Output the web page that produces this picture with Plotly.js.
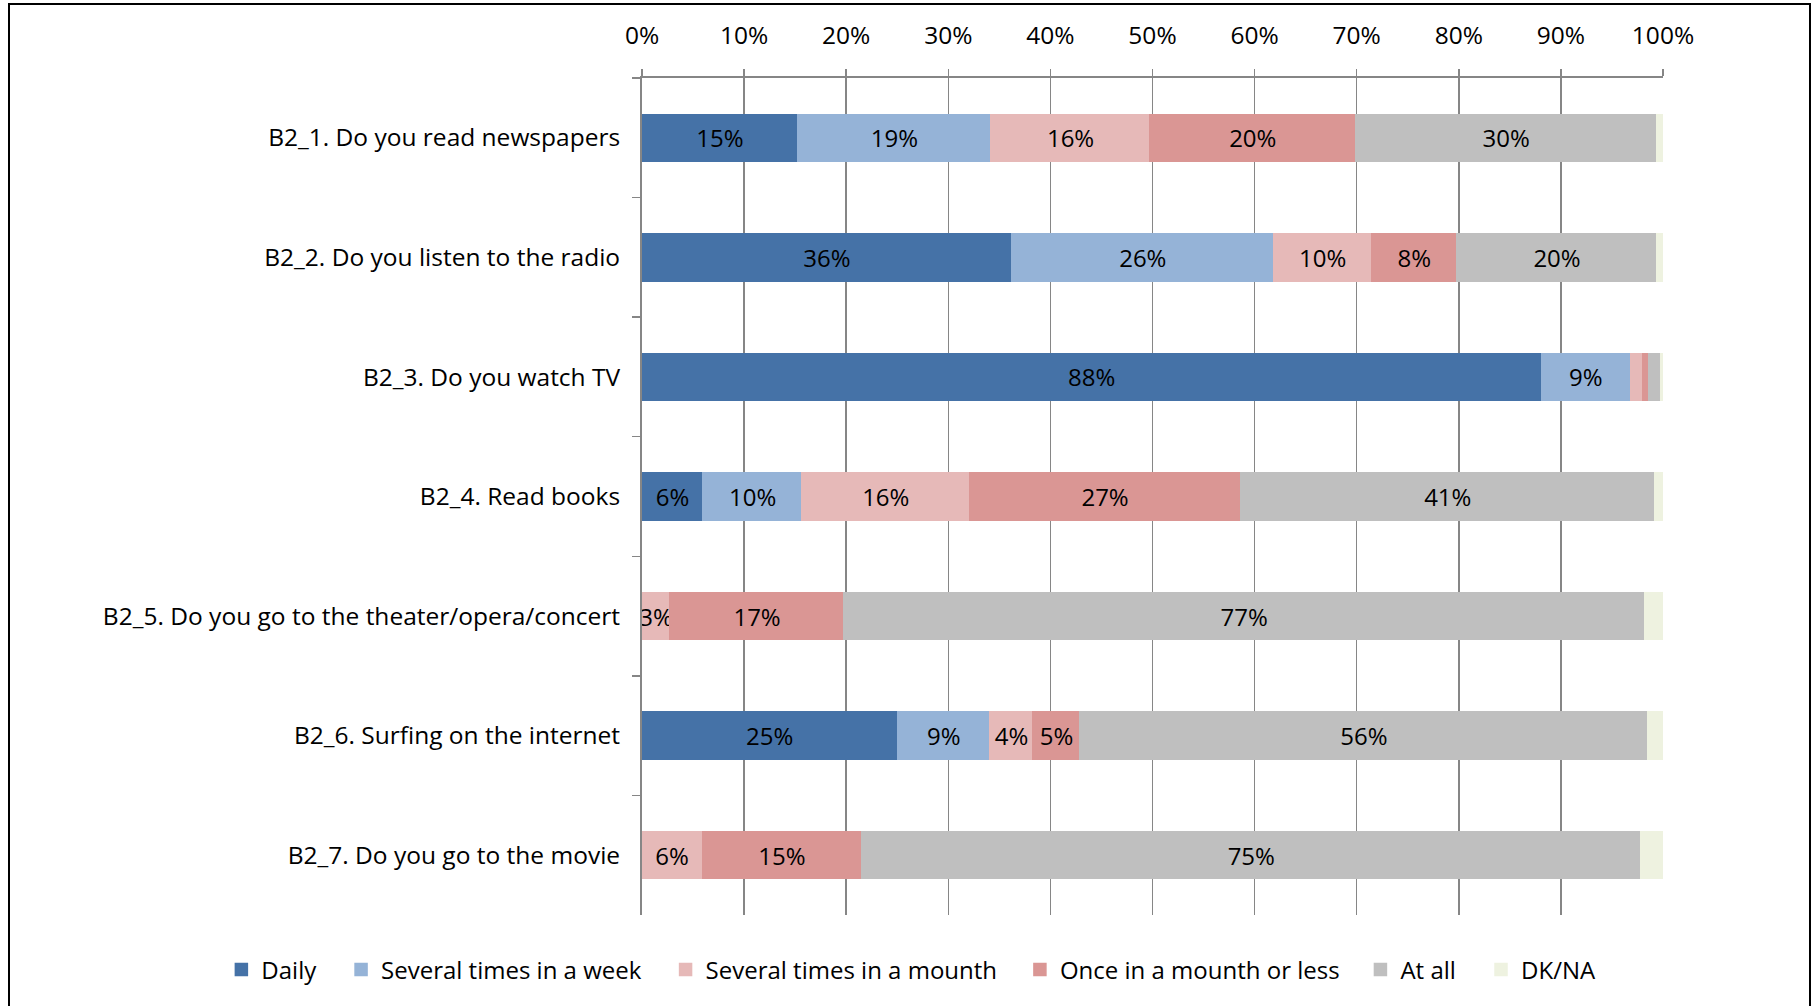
<!DOCTYPE html>
<html>
<head>
<meta charset="utf-8">
<script src="https://cdn.plot.ly/plotly-3.0.1.min.js"></script>
<style>
  html, body { margin: 0; padding: 0; background: #fff; overflow: hidden; }
  #chart { width: 1819px; height: 1006px; position: absolute; left: 0; top: 0; }
  #frame { position: absolute; left: 8px; top: 3px; width: 1803px; height: 1100px; border: 2px solid #000; pointer-events: none; box-sizing: border-box; }
</style>
</head>
<body>
<div id="chart"></div>
<div id="frame"></div>
<script>
const categories = [
  "B2_1. Do you read newspapers",
  "B2_2. Do you listen to the radio",
  "B2_3. Do you watch TV",
  "B2_4. Read books",
  "B2_5. Do you go to the theater/opera/concert",
  "B2_6. Surfing on the internet",
  "B2_7. Do you go to the movie"
];
const seriesNames = ["Daily", "Several times in a week", "Several times in a mounth", "Once in a mounth or less", "At all", "DK/NA"];
const daily        = [15.3, 36.3, 88.0, 6.0, 0, 25.0, 0];
const severalWeek  = [19.0, 25.7, 8.7, 9.7, 0, 9.1, 0];
const severalMonth = [15.6, 9.6, 1.2, 16.4, 2.7, 4.2, 5.8];
const onceMonth    = [20.2, 8.4, 0.6, 26.6, 16.8, 4.6, 15.3];
const atAll        = [29.6, 19.6, 1.2, 40.6, 77.2, 55.6, 75.0];
const dkna         = [0.6, 0.6, 0.2, 0.8, 1.8, 1.5, 2.1];
const xTicks = [0, 10, 20, 30, 40, 50, 60, 70, 80, 90, 100];

const colors = ["#4572A7", "#95B3D7", "#E6B9B8", "#DA9694", "#BFBFBF", "#EEF2E0"];
const seriesValues = [daily, severalWeek, severalMonth, onceMonth, atAll, dkna];
const showLabels = [true, true, true, true, true, false];
// legend placement (fraction of page width, left edge of each legend entry)
const legendX = [0.1217, 0.1875, 0.3659, 0.5607, 0.7479, 0.8142];
const legendIds = ['legend', 'legend2', 'legend3', 'legend4', 'legend5', 'legend6'];

const FONT = 'Open Sans';

const traces = seriesValues.map((vals, i) => ({
  type: 'bar',
  orientation: 'h',
  name: seriesNames[i],
  legend: legendIds[i],
  y: categories,
  x: vals,
  marker: { color: colors[i], line: { width: 1.5, color: colors[i] } },
  text: vals.map(v => (showLabels[i] && v >= 2) ? Math.round(v) + '%' : ''),
  textposition: 'inside',
  insidetextanchor: 'middle',
  textangle: 0,
  constraintext: 'none',
  textfont: { family: FONT, size: 24, color: '#000' },
  hoverinfo: 'skip'
}));

const layout = {
  width: 1819,
  height: 1006,
  paper_bgcolor: '#fff',
  plot_bgcolor: '#fff',
  font: { family: FONT, size: 24.5, color: '#000' },
  barmode: 'stack',
  barnorm: 'percent',
  bargap: 0.607,
  margin: { l: 642, r: 156, t: 78, b: 91, pad: 0 },
  showlegend: true,
  xaxis: {
    side: 'top',
    range: [0, 100],
    tickvals: xTicks,
    ticktext: xTicks.map(v => v + '%'),
    ticks: 'outside',
    ticklen: 7,
    tickwidth: 1.5,
    tickcolor: '#868686',
    showline: true,
    linecolor: '#868686',
    linewidth: 2,
    showgrid: true,
    gridcolor: '#868686',
    gridwidth: 1.5,
    zeroline: false,
    fixedrange: true,
    ticklabelstandoff: 15,
    tickfont: { family: FONT, size: 24.5, color: '#000' }
  },
  yaxis: {
    type: 'category',
    categoryorder: 'array',
    categoryarray: categories,
    autorange: 'reversed',
    ticks: 'outside',
    tickson: 'boundaries',
    ticklen: 8,
    tickwidth: 1.5,
    tickcolor: '#868686',
    showline: true,
    linecolor: '#868686',
    linewidth: 2,
    showgrid: false,
    zeroline: false,
    fixedrange: true,
    ticklabelstandoff: 15,
    tickfont: { family: FONT, size: 24.5, color: '#000' }
  }
};

legendIds.forEach((id, i) => {
  layout[id] = {
    orientation: 'h',
    xref: 'container', yref: 'container',
    x: legendX[i], xanchor: 'left',
    y: 0.0358, yanchor: 'middle',
    bgcolor: 'rgba(0,0,0,0)',
    font: { family: FONT, size: 24, color: '#000' },
    itemwidth: 30
  };
});

Plotly.newPlot('chart', traces, layout, { displayModeBar: false, staticPlot: true });
</script>
</body>
</html>
